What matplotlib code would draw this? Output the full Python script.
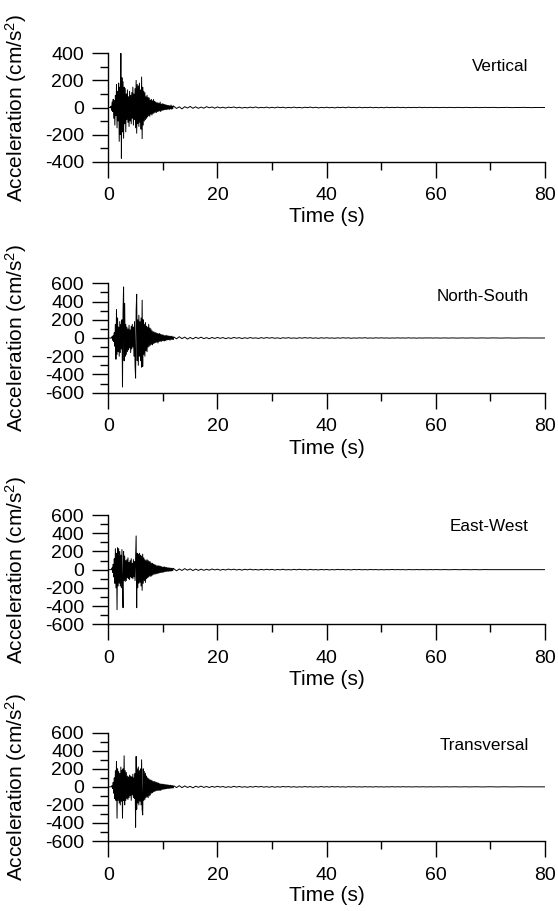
import numpy as np
import matplotlib
matplotlib.use("Agg")
import matplotlib.pyplot as plt
from matplotlib.ticker import MultipleLocator

plt.rcParams['font.family'] = ['Liberation Sans', 'DejaVu Sans']
plt.rcParams['axes.unicode_minus'] = False
plt.rcParams['mathtext.fontset'] = 'custom'
plt.rcParams['mathtext.rm'] = 'Liberation Sans'
plt.rcParams['mathtext.it'] = 'Liberation Sans'

# ---- data (cm/s^2) ----
burst_dt = 0.1      # burst samples from t = 0.0 s
tail_dt = 0.5       # tail samples from t = 12.0 s
tail_start = 12.0

vertical_burst = [0, 0, 0, 0, 0,
                  10, -20, 40, -30, 60,
                  -80, 50, -130, 90, -60, 170, -150, 120, -100, 180,
                  -250, 150, -200, 400, -375, 220, -180, 190, -227, 150,
                  -120, 140, -180, 100, -90, 130, -110, 80, -140, 120,
                  -100, 90, -120, 110, -80, 150, -130, 100, -90, 140,
                  -150, 200, -190, 170, -120, 160, -140, 180, -110, 130,
                  -160, 225, -230, 150, -130, 120, -100, 110, -90, 80,
                  -80, 90, -70, 75, -60, 70, -65, 55, -50, 60,
                  -55, 50, -45, 60, -40, 45, -35, 40, -38, 35,
                  -30, 35, -28, 30, -25, 40, -30, 25, -22, 28,
                  -20, 25, -18, 22, -15, 20, -16, 18, -14, 15,
                  -12, 15, -14, 12, -10, 18, -12, 10, -9, 12]
vertical_tail = [9, -7, 5, -10, 6, -4, 8, -6,
                 5, -6, 3, -5, 6, -2, 4, -5,
                 4, -3, 2, -4, 3, -1, 4, -3, 2, -4, 1, -3, 3, -2, 4, -3, 1, -2, 3, -3,
                 2, -3, 3, -1, 2, -3, 1, -2, 3, -2, 1, -3, 2, -1, 3, -2, 2, -3, 1, -2,
                 2, -2, 1, -3, 2, -1, 2, -2, 3, -1, 1, -2, 2, -2, 1, -1, 2, -2, 1, -2,
                 1, -2, 2, -1, 1, -1, 2, -1, 1, -2, 1, -1, 1, -1, 2, -1, 1, -1, 1, -1,
                 1, -1, 0, 1, -1, 1, 0, -1, 1, 0, -1, 1, 0, -1, 0, 1, -1, 0, 1, 0,
                 0, 1, 0, -1, 0, 0, 1, 0, -1, 0, 0, 0, 1, 0, 0, -1, 0, 0, 0, 0, 0]

ns_burst = [0, 0, 0, 0, 0, 0, 0,
            15, -25, 30,
            -40, 60, -90, 150, -233, 313, -180, 220, -150, 120,
            -200, 180, -160, 150, -120, 200, -538, 300, 560, -250,
            380, -200, 150, -180, 120, -150, 100, -130, 140, -110,
            90, -160, 130, -120, 150, -100, 120, -200, 180, -300,
            -440, 300, 480, -250, 200, -300, 250, -200, 180, -250,
            220, -320, 415, -313, 200, -180, 150, -200, 170, -140,
            130, -150, 120, -100, 150, -90, 110, -80, 100, -70,
            80, -75, 70, -60, 65, -55, 60, -50, 55, -45,
            50, -55, 45, -40, 50, -35, 40, -38, 35, -30,
            35, -30, 28, -32, 25, -28, 30, -22, 25, -20,
            22, -18, 20, -24, 18, -15, 20, -16, 14, -18]
ns_tail = [12, -9, 14, -7, 10, -12, 6, -10,
           8, -5, 9, -7, 4, -8, 6, -5,
           6, -4, 5, -7, 3, -5, 6, -2, 4, -6, 3, -4, 5, -3, 2, -5, 4, -3, 5, -2,
           4, -3, 2, -5, 3, -2, 4, -3, 1, -4, 3, -2, 4, -1, 3, -3, 2, -4, 3, -2,
           3, -2, 1, -3, 2, -2, 3, -1, 2, -3, 1, -2, 2, -1, 3, -2, 1, -2, 2, -1,
           2, -1, 1, -2, 1, -1, 2, -1, 1, -1, 2, -1, 1, -2, 1, -1, 1, 0, 1, -1,
           1, 0, -1, 1, 0, -1, 1, 0, -1, 0, 1, -1, 0, 1, 0, -1, 0, 1, 0, -1,
           0, 1, 0, 0, -1, 0, 1, 0, 0, -1, 0, 0, 1, 0, 0, 0, -1, 0, 0, 0, 0]

ew_burst = [0, 0, 0, 0, 0, 0, 0,
            20, -30, 60,
            -80, 120, -150, 230, -200, 180, -440, 240, -180, 230,
            -150, 200, -180, 160, -200, 220, -150, -418, 200, -120,
            150, -130, 100, -120, 110, -90, 130, -100, 80, -110,
            100, -80, 120, -90, 70, -100, 110, -80, 90, -120,
            150, 370, -418, 180, -200, 170, -150, 180, -140, 160,
            -180, 150, -227, 170, -150, 130, -120, 110, -140, 100,
            -100, 110, -90, 100, -80, 90, -70, 85, -75, 70,
            -65, 70, -55, 60, -50, 55, -48, 50, -45, 40,
            -42, 45, -38, 40, -35, 38, -32, 35, -30, 28,
            -30, 28, -25, 30, -22, 25, -20, 24, -18, 20,
            -18, 20, -16, 18, -15, 16, -14, 15, -12, 14]
ew_tail = [10, -13, 7, -9, 11, -6, 8, -10,
           6, -8, 5, -7, 4, -6, 7, -3,
           5, -6, 3, -4, 6, -2, 5, -4, 3, -5, 4, -2, 5, -3, 2, -4, 3, -3, 4, -2,
           3, -4, 2, -2, 4, -3, 1, -3, 3, -2, 4, -1, 2, -3, 3, -2, 1, -3, 2, -2,
           2, -3, 1, -2, 3, -1, 2, -2, 1, -3, 2, -1, 2, -2, 1, -2, 2, -1, 1, -2,
           1, -2, 1, -1, 2, -1, 1, -1, 1, -2, 1, 0, -1, 1, -1, 1, 0, -1, 1, -1,
           1, 0, -1, 1, 0, -1, 0, 1, 0, -1, 1, 0, 0, -1, 1, 0, -1, 0, 1, 0,
           0, 0, 1, 0, -1, 0, 0, 1, 0, 0, -1, 0, 0, 0, 1, 0, 0, -1, 0, 0, 0]

tr_burst = [0, 0, 0, 0, 0, 0, 0,
            15, -20, 50,
            -70, 100, -130, 180, -150, 281, -348, 200, -150, 170,
            -180, 150, -200, 220, -160, 180, -348, 200, -150, 344,
            -200, 180, -150, 160, -130, 120, -140, 110, -120, 130,
            -100, 120, -150, 110, -90, 140, -120, 100, -130, 150,
            -448, 337, -250, 200, -180, 220, -200, 180, -160, 200,
            -200, 300, -250, -311, 200, -150, 170, -140, 150, -120,
            120, -110, 100, -120, 90, -100, 80, -90, 75, -70,
            70, -65, 60, -55, 60, -50, 55, -45, 50, -40,
            45, -40, 42, -38, 35, -40, 32, -35, 30, -28,
            30, -26, 28, -24, 25, -22, 24, -20, 22, -18,
            20, -18, 17, -16, 18, -14, 15, -13, 14, -12]
tr_tail = [11, -8, 13, -9, 10, -7, 6, -11,
           7, -5, 8, -6, 4, -7, 5, -4,
           6, -3, 4, -6, 2, -5, 6, -3, 4, -4, 2, -5, 3, -3, 5, -2, 4, -3, 2, -4,
           3, -4, 2, -3, 4, -1, 3, -3, 2, -4, 1, -2, 3, -2, 2, -3, 1, -2, 3, -2,
           2, -2, 3, -1, 2, -2, 1, -3, 2, -1, 2, -2, 1, -2, 2, -1, 1, -2, 2, -1,
           1, -2, 1, -1, 2, -1, 1, -1, 2, -1, 1, -1, 0, 1, -1, 1, 0, -1, 1, -1,
           0, 1, -1, 0, 1, -1, 0, 1, 0, -1, 0, 1, -1, 0, 0, 1, 0, -1, 0, 0,
           1, 0, 0, -1, 0, 1, 0, 0, -1, 0, 0, 1, 0, 0, 0, -1, 0, 0, 0, 0, 0]

components = ["Vertical", "North-South", "East-West", "Transversal"]
bursts = [vertical_burst, ns_burst, ew_burst, tr_burst]
tails = [vertical_tail, ns_tail, ew_tail, tr_tail]
y_limits = [400, 600, 600, 600]
label_y = [300, 455, 470, 460]
x_ticks = [0, 20, 40, 60, 80]

# ---- layout (pixel based) ----
W, H = 558, 911
fig = plt.figure(figsize=(W / 100, H / 100), dpi=100)
panels_px = [(53.3, 161.7), (283.3, 392.7), (515.0, 624.3), (732.7, 841.0)]
left_px, right_px = 108.3, 545.0

for i in range(4):
    top, bot = panels_px[i]
    ax = fig.add_axes([left_px / W, (H - bot) / H, (right_px - left_px) / W, (bot - top) / H])
    b = np.asarray(bursts[i], dtype=float)
    tl = np.asarray(tails[i], dtype=float)
    tb = np.arange(len(b)) * burst_dt
    tt = tail_start + np.arange(len(tl)) * tail_dt
    t = np.concatenate([tb, tt])
    a = np.concatenate([b, tl])
    ax.plot(t, a, color='black', lw=0.7)

    lim = y_limits[i]
    ax.set_xlim(0, 80)
    ax.set_ylim(-lim, lim)
    ax.set_xticks(x_ticks)
    ax.xaxis.set_minor_locator(MultipleLocator(10))
    ax.yaxis.set_major_locator(MultipleLocator(200))
    ax.yaxis.set_minor_locator(MultipleLocator(100))
    for s in ['top', 'right']:
        ax.spines[s].set_visible(False)
    for s in ['left', 'bottom']:
        ax.spines[s].set_linewidth(1.0)
    ax.tick_params(which='major', direction='out', length=11.5, width=1.0,
                   labelsize=14)
    ax.tick_params(axis='y', which='major', pad=6)
    ax.tick_params(axis='x', which='major', pad=7)
    ax.tick_params(which='minor', direction='out', length=5.8, width=1.0)
    ax.set_xlabel("Time (s)", fontsize=15)
    ax.xaxis.set_label_coords(0.5, -0.42)
    ax.xaxis.label.set_verticalalignment('top')
    ax.set_ylabel("Acceleration (cm/s$^2$)", fontsize=15)
    ax.yaxis.set_label_coords(-(left_px - 29) / (right_px - left_px), 0.5)
    ax.text(77.0, label_y[i], components[i], ha='right', va='center', fontsize=12.3)

fig.savefig("out.png", dpi=100)
